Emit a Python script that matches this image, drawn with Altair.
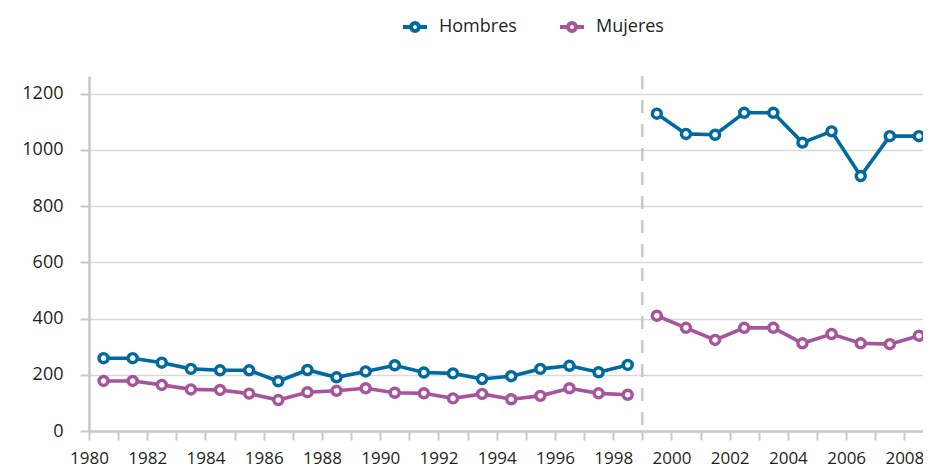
import altair as alt
import pandas as pd

# ---- data ----
years = list(range(1980, 2009))
hombres = [259, 259, 243, 221, 216, 216, 177, 217, 191, 212, 234, 208, 205, 185, 195,
           221, 232, 209, 235, 1129, 1057, 1054, 1132, 1132, 1026, 1066, 907, 1049, 1049]
mujeres = [178, 178, 164, 148, 146, 133, 110, 138, 143, 152, 136, 134, 116, 132, 113,
           125, 152, 134, 129, 410, 367, 324, 367, 367, 312, 345, 312, 309, 339]
series = ["Hombres", "Mujeres"]
colors = ["#006aa0", "#a6559d"]
y_ticks = [0, 200, 400, 600, 800, 1000, 1200]
x_ticks = list(range(1980, 2009))
break_year = 1999

rows = []
for name, vals in zip(series, [hombres, mujeres]):
    for yr, v in zip(years, vals):
        rows.append({"year": yr, "serie": name, "value": v,
                     "period": "a" if yr < break_year else "b"})
df = pd.DataFrame(rows)

FONT = "Open Sans"
TXT = "#231f20"
AX = "#c8c8c8"

x_scale = alt.Scale(domain=[1980, 2008.64], nice=False, zero=False)
y_scale = alt.Scale(domain=[0, 1263], nice=False)

x_axis = alt.Axis(values=x_ticks, format="d",
                  labelExpr="datum.value % 2 == 0 ? datum.label : ''",
                  tickSize=9, tickColor=AX, tickWidth=2,
                  domainColor=AX, domainWidth=2.5,
                  labelFontSize=17, labelFont=FONT, labelColor=TXT,
                  labelPadding=10, labelFlush=False, labelOverlap=False,
                  grid=False, title=None)
y_axis = alt.Axis(values=y_ticks, format="d", tickSize=9, tickColor=AX, tickWidth=2,
                  domainColor=AX, domainWidth=2.5,
                  labelFontSize=18, labelFont=FONT, labelColor=TXT,
                  labelPadding=17, grid=True, gridColor="#d9d9d9", gridWidth=1.5,
                  title=None)

legend_path = ("M-1,0H-0.33M0.33,0H1M0.33,0A0.33,0.33 0 1,1 -0.33,0"
               "A0.33,0.33 0 1,1 0.33,0Z")
color = alt.Color("serie:N", scale=alt.Scale(domain=series, range=colors),
                  legend=alt.Legend(title=None, orient="none", legendX=312, legendY=-63,
                                    direction="horizontal", symbolType=legend_path,
                                    symbolSize=576, symbolStrokeWidth=4,
                                    symbolFillColor="white", labelFontSize=18,
                                    labelFont=FONT, labelColor=TXT, labelOffset=10,
                                    columnPadding=35, padding=0))

base = alt.Chart(df).transform_calculate(xpos="datum.year + 0.5")

lines = base.mark_line(strokeWidth=3.6).encode(
    x=alt.X("xpos:Q", scale=x_scale, axis=x_axis),
    y=alt.Y("value:Q", scale=y_scale, axis=y_axis),
    color=color,
    detail="period:N",
)
points = base.mark_point(filled=False, fill="white", fillOpacity=1, opacity=1,
                         size=82, strokeWidth=3.4).encode(
    x=alt.X("xpos:Q", scale=x_scale, axis=x_axis),
    y=alt.Y("value:Q", scale=y_scale, axis=y_axis),
    color=color,
)
rule = alt.Chart(pd.DataFrame({"x": [break_year]})).mark_rule(
    color=AX, strokeWidth=2.5, strokeDash=[13, 11]).encode(
    x=alt.X("x:Q", scale=x_scale, axis=x_axis))

chart = alt.layer(rule, lines, points).properties(
    width=834, height=355,
    autosize=alt.AutoSizeParams(type="none"),
    padding={"left": 81, "top": 68, "right": 0, "bottom": 40},
).configure_view(stroke=None)

chart.save("out.html", embed_options={"renderer": "svg", "actions": False})
